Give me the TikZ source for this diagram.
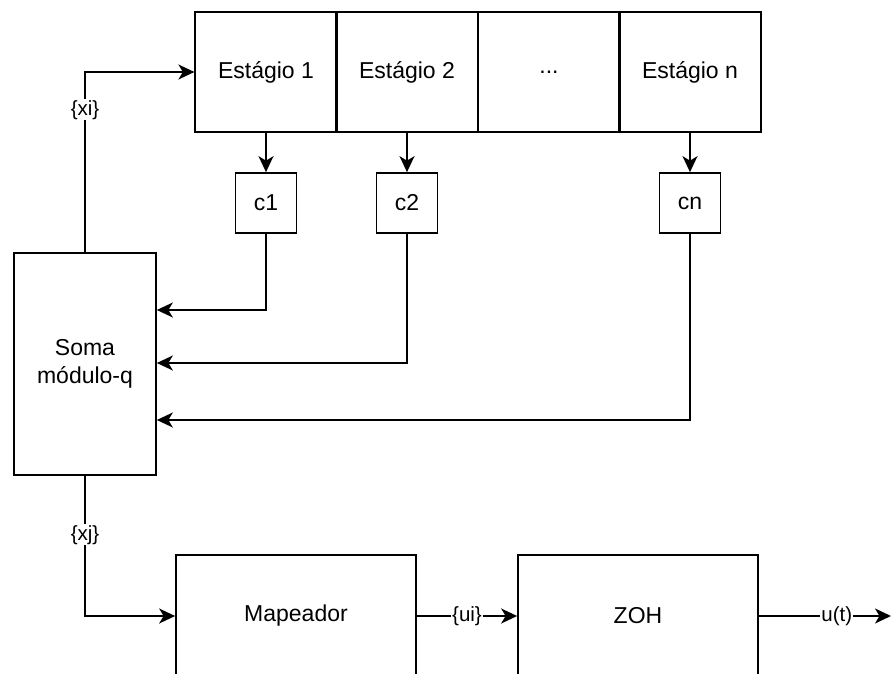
\documentclass[tikz,border=0pt]{standalone}
\usepackage{fontspec}
\setmainfont{Liberation Sans}
\usetikzlibrary{arrows.meta, positioning}

\begin{document}
\begin{tikzpicture}[x=1pt, y=-1pt, line width=1.7pt,
    blk/.style={draw, rectangle, font=\fontsize{23}{28}\selectfont, align=center},
    stg/.style={blk, minimum width=141.5pt, minimum height=120pt},
    cbox/.style={blk, minimum width=61pt, minimum height=60pt},
    lbl/.style={fill=white, inner sep=1pt, font=\fontsize{20.5}{24}\selectfont},
    arr/.style={-{Stealth[length=16pt, width=15pt, inset=4.5pt]}}]
    \useasboundingbox (0,0) rectangle (892,674);
    \clip (0,0) rectangle (892,674);
    % registro de deslocamento
    \node[stg] (st1) at (266,72) {Estágio 1};
    \node[stg] (st2) at (407,72) {Estágio 2};
    \node[stg] (st3) at (549,72) {...};
    \node[stg] (stn) at (690,72) {Estágio n};
    % coeficientes
    \node[cbox] (c1) at (266,203) {c1};
    \node[cbox] (c2) at (407,203) {c2};
    \node[cbox] (cn) at (690,203) {cn};
    \node[blk, minimum width=142pt, minimum height=222pt] (soma) at (85,364) {Soma\\módulo-q};
    \node[blk, minimum width=240pt, minimum height=122pt] (map) at (296,616) {Mapeador};
    \node[blk, minimum width=240pt, minimum height=122pt] (zoh) at (638,616) {ZOH};
    \coordinate (out) at (891,616);
    \draw[arr] (st1.south) -- (c1.north);
    \draw[arr] (st2.south) -- (c2.north);
    \draw[arr] (stn.south) -- (cn.north);
    \draw[arr] (c1.south) |- ([yshift=54pt]soma.east);
    \draw[arr] (c2.south) |- ([yshift=1pt]soma.east);
    \draw[arr] (cn.south) |- ([yshift=-56pt]soma.east);
    \draw[arr] (soma.north) |- (st1.west) node[lbl, pos=0.395] {\{xi\}};
    \draw[arr] (soma.south) |- (map.west) node[lbl, pos=0.21] {\{xj\}};
    \draw[arr] (map.east) -- (zoh.west) node[lbl, midway] {\{ui\}};
    \draw[arr] (zoh.east) -- (out) node[lbl, pos=0.59] {u(t)};
\end{tikzpicture}
\end{document}
